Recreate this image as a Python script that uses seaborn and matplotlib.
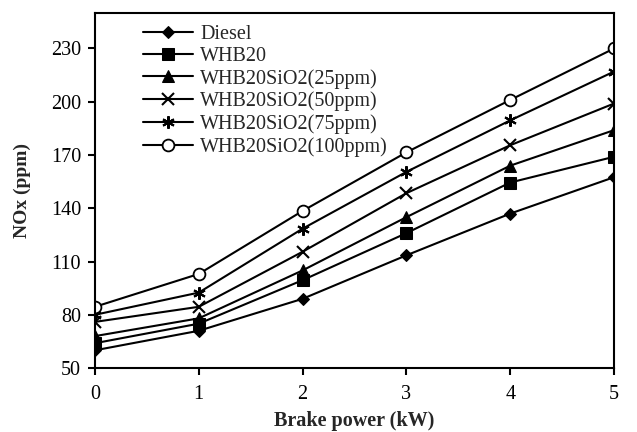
import matplotlib
matplotlib.use("Agg")
import matplotlib.pyplot as plt
import seaborn as sns
import pandas as pd

# brake power (kW) and NOx (ppm) per fuel blend
power = [0, 1, 2, 3, 4, 5]
diesel = [60, 71, 89, 113.5, 137, 157.5]
whb20 = [64, 75, 99.5, 126, 154.5, 169]
sio2_25 = [68, 78, 105, 135, 164, 184]
sio2_50 = [76, 84.5, 115.5, 148.5, 175.5, 199]
sio2_75 = [80, 92.5, 128.5, 160.5, 189.5, 217]
sio2_100 = [84.5, 103, 138.5, 171.5, 201, 230]

names = ["Diesel", "WHB20", "WHB20SiO2(25ppm)", "WHB20SiO2(50ppm)",
         "WHB20SiO2(75ppm)", "WHB20SiO2(100ppm)"]
series = [diesel, whb20, sio2_25, sio2_50, sio2_75, sio2_100]

sns.set_style("ticks")
plt.rcParams['font.family'] = ['Liberation Serif', 'DejaVu Serif']

fig = plt.figure(figsize=(6.37, 4.32), dpi=100)
ax = fig.add_axes([0.149, 0.148, 0.815, 0.822])

# marker style for each series
styles = [
    dict(marker="D", ms=6.5, mfc="black"),
    dict(marker="s", ms=8, mfc="black"),
    dict(marker="^", ms=8, mfc="black"),
    dict(marker="x", ms=8, mew=1.5),
    dict(marker=(6, 2, 0), ms=9, mew=1.5),
    dict(marker="o", ms=8.5, mfc="white", mew=1.3),
]

for name, vals, st in zip(names, series, styles):
    df = pd.DataFrame({"power": power, "nox": vals})
    sns.lineplot(data=df, x="power", y="nox", ax=ax, color="black",
                 linewidth=1.5, mec="black", label=name, **st)

ax.set_xlim(0, 5)
ax.set_ylim(50, 250)
ax.set_xticks(range(0, 6))
ax.set_yticks(range(50, 231, 30))
ax.tick_params(axis="both", labelsize=14.5, length=5, width=1.5, pad=5,
               direction="out", colors="black")
ax.tick_params(axis="x", pad=7)
for s in ax.spines.values():
    s.set_linewidth(1.5)
    s.set_color("black")
    s.set_visible(True)

ax.set_xlabel("Brake power (kW)", fontsize=14.5, fontweight="bold", labelpad=5)
ax.set_ylabel("NOx (ppm)", fontsize=14, fontweight="bold", labelpad=14)

ax.legend(loc="upper left", bbox_to_anchor=(0.077, 0.99), frameon=False,
          fontsize=14.5, handlelength=2.5, handletextpad=0.35, labelspacing=0.15,
          borderaxespad=0)

fig.savefig("out.png", dpi=100)
